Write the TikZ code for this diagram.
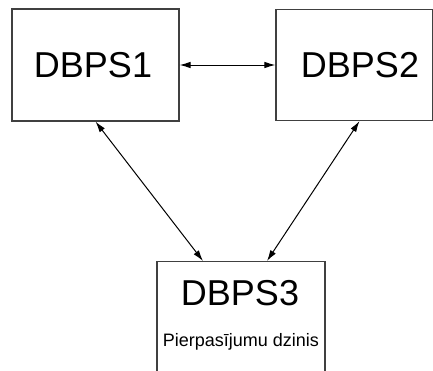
\documentclass[tikz,border=0pt]{standalone}
\usepackage{fontspec}
\setmainfont{Liberation Sans}
\usetikzlibrary{arrows.meta}
\begin{document}
\begin{tikzpicture}[x=1pt,y=-1pt,
  box/.style={draw=black!75, line width=1.1pt, rectangle, inner sep=0pt},
  title/.style={font=\fontsize{36}{40}\selectfont, inner sep=0pt},
  sub/.style={font=\fontsize{18}{20}\selectfont, inner sep=0pt},
  link/.style={line width=1pt, {Latex[length=11pt,width=6.5pt]}-{Latex[length=11pt,width=6.5pt]}}]
  \useasboundingbox (0,0) rectangle (433,370);
  % the three servers
  \node (n1) [box, minimum width=167, minimum height=112] at (95.5,65) {};
  \node (n2) [box, minimum width=157, minimum height=111] at (354.5,65) {};
  \node (n3) [box, anchor=north, minimum width=168, minimum height=130] at (241,261) {};
  \node (t1) [title] at (93,65) {DBPS1};
  \node (t2) [title] at (360,65) {DBPS2};
  \node (t3) [title] at (240,293) {DBPS3};
  \node (s3) [sub] at (241,342) {Pierpasījumu dzinis};
  % links between the servers
  \draw [link] (n1.east) -- (n2.west);
  \draw [link] (n1.south) -- ([xshift=-38]n3.north);
  \draw [link] ([xshift=5]n2.south) -- ([xshift=26]n3.north);
\end{tikzpicture}
\end{document}
